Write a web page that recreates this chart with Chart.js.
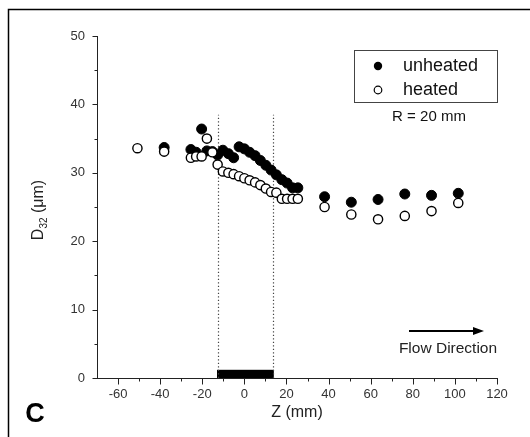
<!DOCTYPE html>
<html lang="en">
<head>
  <meta charset="UTF-8" />
  <title>D32 vs Z</title>
  <script src="https://cdn.jsdelivr.net/npm/chart.js"></script>
  <style>
    body {
      margin: 0;
      background: #fff;
    }
    #wrap {
      position: relative;
      width: 530px;
      height: 437px;
    }
  </style>
</head>
<body>
  <div id="wrap">
    <canvas id="chartD32" width="530" height="437"></canvas>
  </div>

  <script>
    // Z positions (mm) and D32 values (um)
    const unheatedZ = [-38.1, -25.4, -22.9, -20.3, -17.8, -15.2, -12.7, -10.2, -7.6, -5.1,
      -2.5, 0, 2.5, 5.1, 7.6, 10.2, 12.7, 15.2, 17.8, 20.3, 22.9, 25.4,
      38.1, 50.8, 63.5, 76.2, 88.9, 101.6];
    const unheatedD = [33.7, 33.4, 33.0, 36.4, 33.2, 33.1, 32.6, 33.3, 32.8, 32.2,
      33.8, 33.5, 33.0, 32.5, 31.8, 31.1, 30.4, 29.7, 29.0, 28.5, 27.8, 27.8,
      26.5, 25.7, 26.1, 26.9, 26.7, 27.0];

    const heatedZ = [-50.8, -38.1, -25.4, -22.9, -20.3, -17.8, -15.2, -12.7, -10.2, -7.6,
      -5.1, -2.5, 0, 2.5, 5.1, 7.6, 10.2, 12.7, 15.2, 17.8, 20.3, 22.9, 25.4,
      38.1, 50.8, 63.5, 76.2, 88.9, 101.6];
    const heatedD = [33.6, 33.1, 32.2, 32.4, 32.4, 35.0, 33.0, 31.2, 30.2, 30.0,
      29.8, 29.5, 29.2, 28.9, 28.6, 28.2, 27.7, 27.2, 27.1, 26.2, 26.2, 26.2, 26.2,
      25.0, 23.9, 23.2, 23.7, 24.4, 25.6];

    // heated section: solid bar on the axis and the dotted limits
    const barZ = [-13, 14];
    const barTop = 1.2;
    const limitZ = [-12.3, 13.5];
    const limitTop = 38.5;

    const xRange = [-70, 120];
    const yRange = [0, 50];

    const seriesLabels = ['unheated', 'heated'];

    const toPts = (xs, ys) => xs.map((x, i) => ({ x: x, y: ys[i] }));

    const FONT = '"Liberation Sans", Arial, sans-serif';
    const TXT = '#222';

    // extra drawing: frame, ticks, axis title, heater bar, legend, arrow
    const extras = {
      id: 'extras',
      beforeDatasetsDraw(chart) {
        const ctx = chart.ctx;
        const x = chart.scales.x, y = chart.scales.y;
        ctx.save();
        // black bar
        ctx.fillStyle = '#000';
        const bx0 = x.getPixelForValue(barZ[0]), bx1 = x.getPixelForValue(barZ[1]);
        const by0 = y.getPixelForValue(barTop), by1 = y.getPixelForValue(0);
        ctx.fillRect(bx0, by0, bx1 - bx0, by1 - by0);
        // dotted lines
        ctx.strokeStyle = '#444';
        ctx.lineWidth = 1.2;
        ctx.setLineDash([1.2, 2.3]);
        limitZ.forEach(z => {
          const px = Math.round(x.getPixelForValue(z)) + 0.5;
          ctx.beginPath();
          ctx.moveTo(px, y.getPixelForValue(0));
          ctx.lineTo(px, y.getPixelForValue(limitTop));
          ctx.stroke();
        });
        ctx.restore();
      },
      afterDraw(chart) {
        const ctx = chart.ctx;
        const x = chart.scales.x, y = chart.scales.y;
        ctx.save();

        // outer frame (top + left)
        ctx.strokeStyle = '#000';
        ctx.lineWidth = 1.5;
        ctx.beginPath();
        ctx.moveTo(530, 9.5);
        ctx.lineTo(8.5, 9.5);
        ctx.lineTo(8.5, 437);
        ctx.stroke();

        // tick marks
        ctx.strokeStyle = '#222';
        ctx.lineWidth = 1;
        const ay = Math.round(y.getPixelForValue(0)) + 0.5;
        for (let v = -60; v <= xRange[1]; v += 10) {
          const px = Math.round(x.getPixelForValue(v)) + 0.5;
          const len = v % 20 === 0 ? 6 : 3;
          ctx.beginPath();
          ctx.moveTo(px, ay);
          ctx.lineTo(px, ay + len);
          ctx.stroke();
        }
        const ax = Math.round(x.left) + 0.5;
        for (let v = yRange[0]; v <= yRange[1]; v += 5) {
          const py = Math.round(y.getPixelForValue(v)) + 0.5;
          const len = v % 10 === 0 ? 5 : 3;
          ctx.beginPath();
          ctx.moveTo(ax, py);
          ctx.lineTo(ax - len, py);
          ctx.stroke();
        }

        // y axis title with subscript
        ctx.fillStyle = TXT;
        ctx.translate(39, (y.top + y.bottom) / 2 + 3);
        ctx.rotate(-Math.PI / 2);
        ctx.textBaseline = 'middle';
        ctx.font = '16px ' + FONT;
        const wD = ctx.measureText('D').width;
        ctx.font = '10px ' + FONT;
        const wS = ctx.measureText('32').width;
        ctx.font = '16px ' + FONT;
        const wR = ctx.measureText(' (\u03bcm)').width;
        let sx = -(wD + wS + wR) / 2;
        ctx.textAlign = 'left';
        ctx.fillText('D', sx, 0);
        ctx.font = '10px ' + FONT;
        ctx.fillText('32', sx + wD, 5);
        ctx.font = '16px ' + FONT;
        ctx.fillText(' (\u03bcm)', sx + wD + wS, 0);
        ctx.setTransform(1, 0, 0, 1, 0, 0);

        // legend box
        ctx.strokeStyle = '#444';
        ctx.lineWidth = 1;
        ctx.strokeRect(354.5, 50.5, 143, 52);
        ctx.fillStyle = '#000';
        ctx.beginPath();
        ctx.arc(378, 66, 4.2, 0, Math.PI * 2);
        ctx.fill();
        ctx.fillStyle = '#fff';
        ctx.strokeStyle = '#000';
        ctx.lineWidth = 1.2;
        ctx.beginPath();
        ctx.arc(378, 90, 3.8, 0, Math.PI * 2);
        ctx.fill();
        ctx.stroke();
        ctx.fillStyle = '#111';
        ctx.font = '18px ' + FONT;
        ctx.textAlign = 'left';
        ctx.textBaseline = 'middle';
        ctx.fillText(seriesLabels[0], 403, 66);
        ctx.fillText(seriesLabels[1], 403, 90);
        ctx.font = '15px ' + FONT;
        ctx.textAlign = 'center';
        ctx.fillText('R = 20 mm', 429, 117);

        // flow direction arrow
        ctx.strokeStyle = '#000';
        ctx.lineWidth = 2;
        ctx.beginPath();
        ctx.moveTo(409, 331);
        ctx.lineTo(476, 331);
        ctx.stroke();
        ctx.fillStyle = '#000';
        ctx.beginPath();
        ctx.moveTo(484, 331);
        ctx.lineTo(473, 327);
        ctx.lineTo(473, 335);
        ctx.closePath();
        ctx.fill();
        ctx.fillStyle = TXT;
        ctx.font = '15.5px ' + FONT;
        ctx.textAlign = 'center';
        ctx.fillText('Flow Direction', 448, 349);

        // panel letter
        ctx.fillStyle = '#000';
        ctx.font = 'bold 27px ' + FONT;
        ctx.textAlign = 'center';
        ctx.fillText('C', 35, 415);

        ctx.restore();
      }
    };

    const ctx = document.getElementById('chartD32').getContext('2d');
    const chart = new Chart(ctx, {
      type: 'scatter',
      data: {
        datasets: [{
          label: seriesLabels[0],
          data: toPts(unheatedZ, unheatedD),
          pointRadius: 5,
          pointBackgroundColor: '#000',
          pointBorderColor: '#000',
          pointBorderWidth: 1,
          order: 2
        }, {
          label: seriesLabels[1],
          data: toPts(heatedZ, heatedD),
          pointRadius: 4.6,
          pointBackgroundColor: '#fff',
          pointBorderColor: '#000',
          pointBorderWidth: 1.4,
          order: 1
        }]
      },
      options: {
        responsive: false,
        animation: false,
        layout: { padding: { top: 36, right: 33, left: 0, bottom: 0 } },
        plugins: {
          legend: { display: false },
          tooltip: { enabled: false }
        },
        scales: {
          x: {
            type: 'linear',
            min: xRange[0],
            max: xRange[1],
            afterFit: s => { s.height = 59; },
            ticks: {
              stepSize: 10,
              autoSkip: false,
              maxRotation: 0,
              padding: 9,
              color: '#333',
              font: { family: FONT, size: 13 },
              callback: v => (v % 20 === 0 ? v : '')
            },
            grid: { drawOnChartArea: false, drawTicks: false },
            border: { display: true, color: '#222', width: 1 },
            title: {
              display: true,
              text: 'Z (mm)',
              color: TXT,
              font: { family: FONT, size: 16 },
              padding: { top: 0, bottom: 15 }
            }
          },
          y: {
            min: yRange[0],
            max: yRange[1],
            afterFit: s => { s.width = 97; },
            ticks: {
              stepSize: 5,
              padding: 12,
              color: '#333',
              font: { family: FONT, size: 13 },
              callback: v => (v % 10 === 0 ? v : '')
            },
            grid: { drawOnChartArea: false, drawTicks: false },
            border: { display: true, color: '#222', width: 1 }
          }
        }
      },
      plugins: [extras]
    });
  </script>
</body>
</html>
